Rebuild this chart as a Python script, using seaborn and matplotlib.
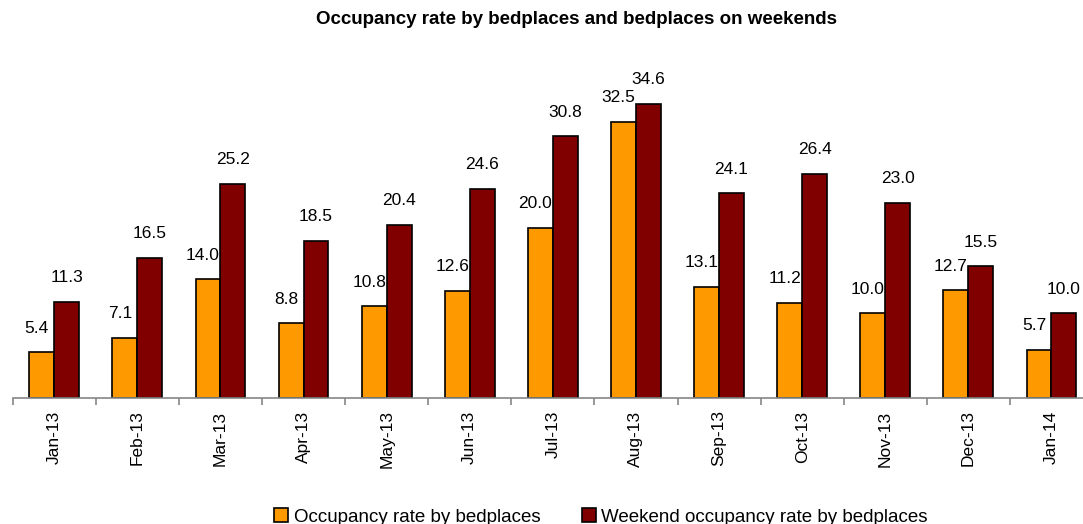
import matplotlib
matplotlib.use("Agg")
import matplotlib.pyplot as plt
import seaborn as sns
import pandas as pd
import numpy as np

months = ["Jan-13", "Feb-13", "Mar-13", "Apr-13", "May-13", "Jun-13", "Jul-13",
          "Aug-13", "Sep-13", "Oct-13", "Nov-13", "Dec-13", "Jan-14"]
occupancy = [5.4, 7.1, 14.0, 8.8, 10.8, 12.6, 20.0, 32.5, 13.1, 11.2, 10.0, 12.7, 5.7]
weekend = [11.3, 16.5, 25.2, 18.5, 20.4, 24.6, 30.8, 34.6, 24.1, 26.4, 23.0, 15.5, 10.0]
series_names = ["Occupancy rate by bedplaces", "Weekend occupancy rate by bedplaces"]
colors = ["#FF9900", "#800000"]

df = pd.DataFrame({
    "month": months * 2,
    "value": occupancy + weekend,
    "series": [series_names[0]] * len(months) + [series_names[1]] * len(months),
})

sns.set_style("white")
plt.rcParams["font.family"] = ["Liberation Sans", "DejaVu Sans"]
plt.rcParams["text.color"] = "black"
plt.rcParams["xtick.color"] = "#868686"
plt.rcParams["xtick.labelcolor"] = "black"

W, H = 1083, 524
fig = plt.figure(figsize=(W / 100, H / 100), dpi=100)
left_px, right_px, bottom_px, top_px = 12.7, 1093, 398, 58
ax = fig.add_axes([left_px / W, 1 - bottom_px / H, (right_px - left_px) / W, (bottom_px - top_px) / H])

sns.barplot(data=df, x="month", y="value", hue="series", order=months,
            hue_order=series_names, palette=colors, width=0.6,
            edgecolor="black", linewidth=1.2, ax=ax, saturation=1)

ax.set_ylim(0, 40)
ax.set_xlim(-0.5, len(months) - 0.5)
ax.set_xlabel("")
ax.set_ylabel("")
ax.set_yticks([])
for s in ["top", "right", "left"]:
    ax.spines[s].set_visible(False)
ax.spines["bottom"].set_color("#868686")
ax.spines["bottom"].set_linewidth(1.2)

ax.set_xticks(np.arange(len(months)))
ax.set_xticklabels(months, rotation=90, fontsize=12.5, color="black")
ax.set_xticks(np.arange(len(months) + 1) - 0.5, minor=True)
ax.tick_params(axis="x", which="major", bottom=True, length=0, pad=9)
ax.tick_params(axis="x", which="minor", bottom=True, length=5, color="#868686",
               width=1.2, direction="out")

# value labels
for ci, cont in enumerate(ax.containers):
    dx = -5 if ci == 0 else 0
    for rect in cont:
        h = rect.get_height()
        xc = rect.get_x() + rect.get_width() / 2
        ax.annotate(f"{h:.1f}", (xc, h), xytext=(dx, 24), textcoords="offset pixels",
                    ha="center", va="center", fontsize=12.5, color="black",
                    annotation_clip=False)

handles, labels = ax.get_legend_handles_labels()
ax.get_legend().remove()
fig.legend(handles, labels, loc="center", bbox_to_anchor=(601 / W, 1 - 517 / H), ncol=2,
           frameon=False, fontsize=13.5, handlelength=0.75, handleheight=0.75,
           handletextpad=0.3, columnspacing=2.2, labelcolor="black")

fig.text(577 / W, 1 - 20 / H, "Occupancy rate by bedplaces and bedplaces on weekends",
         ha="center", va="center", fontsize=13.5, fontweight="bold", color="black")

fig.savefig("out.png", dpi=100)
